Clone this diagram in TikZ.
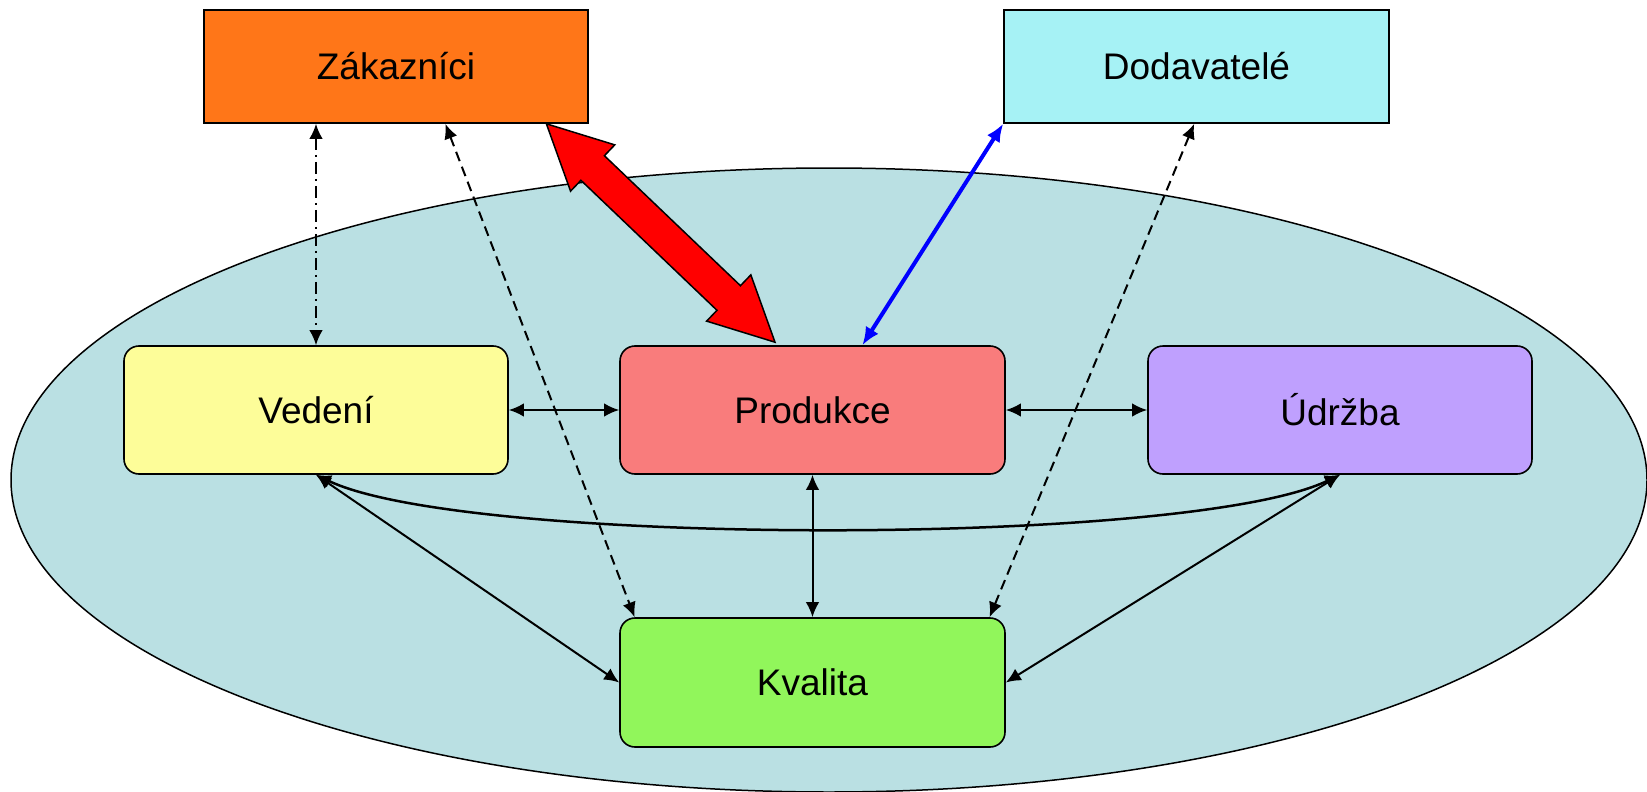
\documentclass[tikz,border=0pt]{standalone}
\usepackage{fontspec}
\setmainfont{Liberation Sans}
\usetikzlibrary{arrows.meta,calc}
\definecolor{ellfill}{RGB}{186,224,227}
\definecolor{zakfill}{RGB}{255,118,24}
\definecolor{dodfill}{RGB}{166,242,245}
\definecolor{vedfill}{RGB}{253,253,153}
\definecolor{profill}{RGB}{249,124,124}
\definecolor{udrfill}{RGB}{191,160,254}
\definecolor{kvafill}{RGB}{145,246,91}
\begin{document}
\begin{tikzpicture}[x=1pt,y=-1pt,
  box/.style={draw=black, line width=1.6pt, minimum width=384pt, minimum height=128pt,
    inner sep=0pt, font=\fontsize{37}{44}\selectfont},
  sqbox/.style={box, minimum height=113pt},
  rbox/.style={box, rounded corners=15pt},
  tip/.tip={Latex[length=15pt,width=13.5pt]},
  conn/.style={line width=2pt, tip-tip},
  dashconn/.style={conn, dash pattern=on 10pt off 6pt},
  dotconn/.style={conn, dash pattern=on 12pt off 5pt on 2pt off 5pt},
  blueconn/.style={draw=blue, line width=4pt, {Latex[length=18pt,width=15pt]}-{Latex[length=18pt,width=15pt]}},
]
\useasboundingbox (0,0) rectangle (1647,792);
% ellipse (organisation)
\draw[fill=ellfill, line width=1.5pt] (829,480) ellipse [x radius=818pt, y radius=312pt];

% nodes
\node[sqbox, fill=zakfill] (zak) at (396,66.5) {Zákazníci};
\node[sqbox, fill=dodfill, minimum width=385pt] (dod) at (1196.5,66.5) {Dodavatelé};
\node[rbox, fill=vedfill] (ved) at (316,410) {Vedení};
\node[rbox, fill=profill, minimum width=385pt] (pro) at (812.5,410) {Produkce};
\node[rbox, fill=udrfill] (udr) at (1340,410) {Údržba};
\node[rbox, fill=kvafill, minimum width=385pt, minimum height=129pt] (kva) at (812.5,682.5) {Kvalita};

% connector end points
\coordinate (zd) at ($(zak.south west)!0.628!(zak.south east)$);
\coordinate (kd1) at ($(kva.north west)!0.04!(kva.north east)$);
\coordinate (dd) at ($(dod.south west)!0.494!(dod.south east)$);
\coordinate (kd2) at ($(kva.north west)!0.958!(kva.north east)$);
\coordinate (pb) at ($(pro.north west)!0.629!(pro.north east)$);

% internal connectors
\draw[conn] (ved.east) -- (pro.west);
\draw[conn] (pro.east) -- (udr.west);
\draw[conn] (pro.south) -- (kva.north);
\draw[conn] (ved.south) -- (kva.west);
\draw[conn] (udr.south) -- (kva.east);
\draw[conn, line width=2.5pt] (ved.south) .. controls +(150,72) and +(-150,72) .. (udr.south);

% external connectors
\draw[dotconn] (ved.north |- zak.south) -- (ved.north);
\draw[dashconn] (zd) -- (kd1);
\draw[dashconn] (dd) -- (kd2);
\draw[blueconn] (dod.south west) -- (pb);

% thick red double arrow
\coordinate (ra) at ($(zak.south west)!0.89!(zak.south east)$);
\coordinate (rb) at ($(pro.north west)!0.403!(pro.north east)+(0,-3)$);
\coordinate (ra1) at ($(ra)!64pt!(rb)$);
\coordinate (rb1) at ($(rb)!64pt!(ra)$);
\filldraw[fill=red, draw=black, line width=1.5pt, line join=miter]
  (ra) -- ($(ra1)!32pt!90:(rb)$) -- ($(ra1)!17pt!90:(rb)$)
  -- ($(rb1)!17pt!-90:(ra)$) -- ($(rb1)!32pt!-90:(ra)$) -- (rb)
  -- ($(rb1)!32pt!90:(ra)$) -- ($(rb1)!17pt!90:(ra)$)
  -- ($(ra1)!17pt!-90:(rb)$) -- ($(ra1)!32pt!-90:(rb)$) -- cycle;
\end{tikzpicture}
\end{document}
